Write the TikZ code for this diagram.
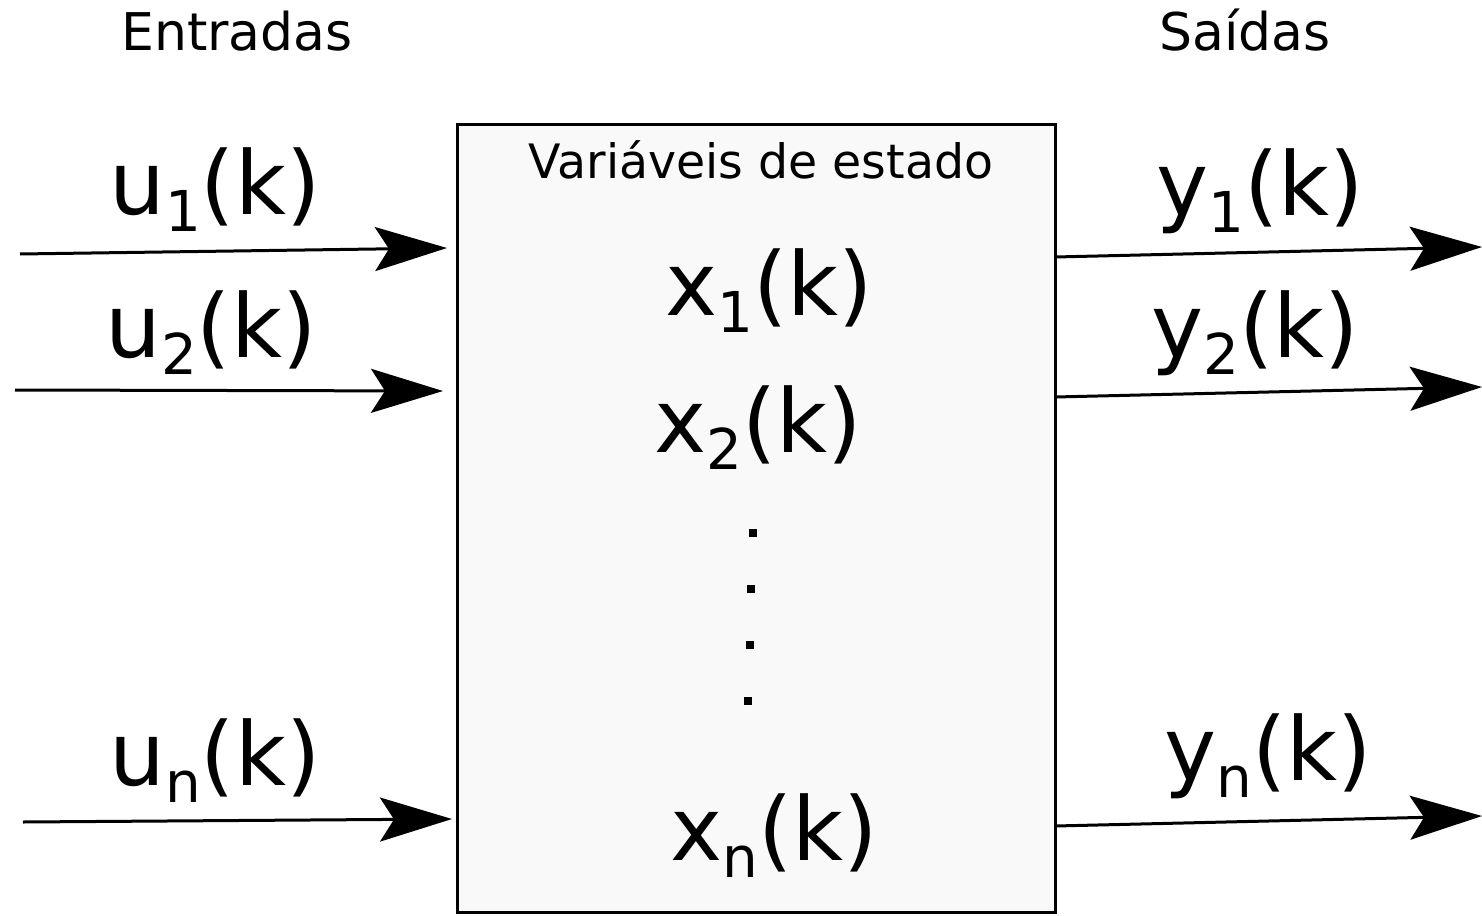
\documentclass[tikz,border=0pt]{standalone}
\usepackage{fontspec}
\setmainfont{DejaVu Sans}
\usetikzlibrary{arrows.meta}
\newcommand\lowsub[1]{\raisebox{-0.2em}{\scalebox{0.64}{#1}}}
\tikzset{
  biglbl/.style={anchor=base, inner sep=0pt, font=\fontsize{44}{50}\selectfont},
  headlbl/.style={anchor=base, inner sep=0pt, font=\fontsize{26}{30}\selectfont},
  sig/.style={line width=1.5pt, -{Stealth[length=36pt, width=22pt, inset=7pt]}},
  dotsq/.style={fill=black, minimum size=4pt, inner sep=0pt},
}
\begin{document}
\begin{tikzpicture}[x=0.5pt, y=-0.5pt]
\useasboundingbox (0,0) rectangle (1482,915);
% box
\node[draw, line width=1.5pt, fill=black!2.5, minimum width=299pt, minimum height=393.5pt, inner sep=0pt] (box) at (756,518.5) {};
\node[anchor=base, inner sep=0pt, font=\fontsize{23.7}{28}\selectfont] (title) at (761,178) {Variáveis de estado};
% headers
\node[headlbl] (ent) at (237,51) {Entradas};
\node[headlbl] (sai) at (1245,51) {Saídas};
% state variables
\node[biglbl] (x1) at (769,315) {x\lowsub{1}(k)};
\node[biglbl] (x2) at (758,452) {x\lowsub{2}(k)};
\node[biglbl] (xn) at (774,860) {x\lowsub{n}(k)};
\node[dotsq] (d1) at (753,533) {};
\node[dotsq] (d2) at (751,589) {};
\node[dotsq] (d3) at (750,645) {};
\node[dotsq] (d4) at (748,701) {};
% input labels
\node[biglbl] (u1) at (215,214) {u\lowsub{1}(k)};
\node[biglbl] (u2) at (211,357) {u\lowsub{2}(k)};
\node[biglbl] (un) at (215,785) {u\lowsub{n}(k)};
% output labels
\node[biglbl] (y1) at (1260,215) {y\lowsub{1}(k)};
\node[biglbl] (y2) at (1255,357) {y\lowsub{2}(k)};
\node[biglbl] (yn) at (1268,780) {y\lowsub{n}(k)};
% arrow ends
\coordinate (u1s) at (20,254);   \coordinate (u1e) at (447,248);
\coordinate (u2s) at (15,390);   \coordinate (u2e) at (443,391);
\coordinate (uns) at (23,822);   \coordinate (une) at (452,819);
\coordinate (y1s) at (1055,257); \coordinate (y1e) at (1482,247);
\coordinate (y2s) at (1055,397); \coordinate (y2e) at (1482,387);
\coordinate (yns) at (1055,826); \coordinate (yne) at (1482,816);
\draw[sig] (u1s) -- (u1e);
\draw[sig] (u2s) -- (u2e);
\draw[sig] (uns) -- (une);
\draw[sig] (y1s) -- (y1e);
\draw[sig] (y2s) -- (y2e);
\draw[sig] (yns) -- (yne);
\end{tikzpicture}
\end{document}
